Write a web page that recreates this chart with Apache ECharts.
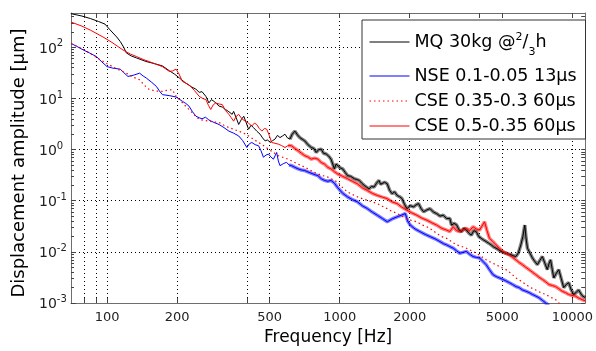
<!DOCTYPE html>
<html>
<head>
<meta charset="utf-8">
<script src="https://cdn.jsdelivr.net/npm/echarts@6/dist/echarts.min.js"></script>
<style>
  html, body {margin: 0; padding: 0; background: #fff;}
  #chart {width: 596px; height: 351px;}
</style>
</head>
<body>
<div id="chart"></div>
<script>
const FONT = 'DejaVu Sans';

// axis ticks and labels
const xLabelValues = [100, 200, 500, 1000, 2000, 5000, 10000];
const xTickValues = [80, 90, 100, 200, 400, 500, 1000, 2000, 4000, 5000, 10000];
const yDecades = [1e-3, 1e-2, 1e-1, 1, 10, 100];

const seriesNames = ['MQ 30kg @2/3h', 'NSE 0.1-0.05 13µs', 'CSE 0.35-0.3 60µs', 'CSE 0.5-0.35 60µs'];

// series: [frequency Hz, amplitude um]
const mqData = [[70,456],[78,410],[85,365],[92,320],[98,285],[103,220],[110,160],[114,130],[118,100],[121,78],[127,68],[134,62],[147,53],[160,48],[173,43.4],[185,35],[195,30],[205,25],[218,20],[230,17],[241,15.2],[249,13.2],[256,13.6],[261,13.0],[266,11],[274,8.2],[281,9.5],[288,8.8],[295,8.0],[303,7.1],[313,6.8],[323,6.1],[334,5.5],[345,4.9],[350,5.6],[356,5.3],[362,3.8],[368,3.1],[378,3.9],[387,4.5],[396,3.4],[406,2.5],[416,3.0],[426,2.7],[440,2.3],[455,2.0],[466,1.7],[478,1.48],[490,1.55],[502,1.38],[515,1.5],[527,1.6],[540,1.9],[554,1.72],[568,1.85],[582,2.0],[596,1.7],[611,1.6],[625,2.0],[642,2.3],[658,1.95],[674,1.72],[690,1.6],[708,1.48],[730,1.25],[755,1.1],[775,1.05],[793,0.88],[812,1.0],[833,1.02],[852,0.85],[875,0.82],[896,0.75],[918,0.65],[935,0.6],[949,0.42],[965,0.52],[981,0.5],[1005,0.44],[1030,0.42],[1055,0.36],[1081,0.31],[1115,0.3],[1155,0.27],[1185,0.26],[1213,0.25],[1245,0.22],[1274,0.2],[1305,0.185],[1338,0.171],[1370,0.19],[1405,0.185],[1440,0.22],[1475,0.25],[1500,0.21],[1524,0.2],[1560,0.23],[1601,0.214],[1640,0.16],[1681,0.137],[1720,0.15],[1766,0.127],[1810,0.12],[1854,0.11],[1900,0.085],[1947,0.07],[2010,0.08],[2079,0.076],[2130,0.083],[2183,0.088],[2240,0.07],[2293,0.061],[2370,0.066],[2446,0.07],[2530,0.06],[2612,0.056],[2700,0.05],[2789,0.052],[2881,0.045],[2976,0.045],[3026,0.0334],[3100,0.036],[3177,0.034],[3260,0.027],[3337,0.0248],[3420,0.029],[3504,0.0267],[3600,0.023],[3681,0.0213],[3770,0.026],[3866,0.0248],[3960,0.02],[4060,0.0184],[4160,0.017],[4264,0.0159],[4370,0.0148],[4478,0.0137],[4590,0.0125],[4702,0.0118],[4820,0.011],[4938,0.0102],[5060,0.0098],[5186,0.0094],[5320,0.009],[5447,0.0088],[5580,0.0084],[5720,0.0081],[5860,0.0095],[6008,0.0137],[6130,0.02],[6247,0.0334],[6330,0.018],[6416,0.0118],[6570,0.0095],[6738,0.0076],[6900,0.0065],[7077,0.0056],[7250,0.0068],[7432,0.0081],[7620,0.006],[7806,0.0045],[7930,0.0058],[8062,0.007],[8200,0.0045],[8326,0.0031],[8530,0.0038],[8744,0.0045],[8960,0.003],[9183,0.002],[9420,0.0023],[9645,0.0025],[9890,0.0018],[10130,0.00147],[10380,0.0016],[10640,0.0018],[11000,0.0014],[11360,0.00127]];

const nseData = [[70,119.5],[74,105],[79,89],[84,78],[90,66],[95,52],[100,42],[106,39.2],[114,37.5],[118,32],[123,27],[128,28],[131.5,29.1],[138,31.3],[143,27.5],[147.5,25.1],[155,21],[163,17.2],[168,14],[173,11.9],[185,11.4],[198,10.7],[211,8.8],[218,8],[225,7.1],[233,5.5],[241,4.5],[249,4.2],[256,4.0],[265,4.3],[274,3.8],[288,3.4],[303,3.1],[318,2.7],[334,2.3],[350,2.1],[368,1.85],[383,1.5],[399,1.1],[409,1.3],[419,1.38],[433,1.25],[448,1.19],[459,0.95],[470,0.71],[482,0.78],[494,0.82],[506,0.72],[519,0.65],[527,0.75],[536,0.88],[545,0.6],[554,0.485],[572,0.53],[591,0.565],[606,0.5],[621,0.485],[642,0.45],[663,0.42],[685,0.4],[708,0.39],[738,0.36],[768,0.335],[787,0.32],[806,0.31],[833,0.27],[861,0.25],[889,0.24],[918,0.25],[950,0.22],[981,0.18],[1030,0.14],[1081,0.119],[1135,0.105],[1193,0.095],[1250,0.08],[1315,0.0703],[1380,0.06],[1451,0.0521],[1525,0.045],[1601,0.0388],[1680,0.044],[1766,0.0485],[1840,0.052],[1914,0.0562],[1960,0.04],[2011,0.0334],[2110,0.028],[2218,0.0248],[2330,0.022],[2446,0.0199],[2570,0.018],[2698,0.0159],[2790,0.0145],[2881,0.0137],[2976,0.0127],[3077,0.0118],[3180,0.0105],[3282,0.0094],[3390,0.0098],[3504,0.0102],[3620,0.009],[3743,0.0081],[3866,0.0078],[3993,0.0076],[4130,0.0065],[4264,0.0056],[4400,0.0045],[4553,0.0036],[4700,0.0033],[4857,0.0031],[5020,0.0029],[5186,0.0027],[5360,0.0025],[5538,0.0023],[5720,0.0021],[5909,0.002],[6100,0.0018],[6310,0.0017],[6520,0.0016],[6738,0.00147],[6960,0.00137],[7189,0.00127],[7430,0.00113],[7677,0.00101],[7930,0.0009]];

const cse1Data = [[70,119],[78,95],[85,75],[92,60],[100,48],[110,38],[121,31.3],[130,26],[138,23.2],[145,18],[152,14.9],[163,14],[173,13.8],[182,14.5],[191,14.9],[198,11],[205,9.5],[215,7.5],[225,6.1],[237,4.8],[249,3.9],[265,3.7],[283,3.5],[303,3.4],[318,3.0],[334,2.7],[350,2.5],[368,2.3],[386,2.1],[406,1.85],[426,1.6],[448,1.38],[470,1.2],[494,1.02],[519,0.88],[545,0.76],[572,0.7],[600,0.65],[631,0.58],[663,0.52],[696,0.47],[731,0.42],[768,0.37],[806,0.335],[847,0.31],[889,0.29],[934,0.26],[981,0.23],[1030,0.18],[1081,0.148],[1135,0.132],[1193,0.119],[1250,0.11],[1315,0.102],[1380,0.095],[1451,0.088],[1525,0.078],[1601,0.07],[1680,0.062],[1766,0.0562],[1850,0.05],[1947,0.045],[2040,0.041],[2147,0.0388],[2250,0.034],[2368,0.031],[2490,0.027],[2612,0.023],[2740,0.02],[2881,0.0184],[3030,0.0158],[3177,0.0137],[3340,0.0128],[3504,0.0118],[3680,0.0105],[3866,0.0094],[4060,0.0082],[4264,0.007],[4480,0.0062],[4702,0.0056],[4940,0.005],[5186,0.0045],[5450,0.0038],[5720,0.0031],[6010,0.0027],[6310,0.0023],[6630,0.002],[6960,0.0018],[7310,0.0016],[7677,0.00147],[8060,0.0013],[8466,0.00117],[8750,0.001],[9040,0.00094]];

const cse2Data = [[70,313],[78,260],[85,216],[96,160],[105,125],[117,89],[126,74],[134,66],[143,58],[152,52.6],[162,47],[173,42],[185,34],[191,34.5],[198,37.5],[204,30],[211,21.5],[225,18.6],[237,14.5],[249,11],[258,10],[266,9.5],[273,7.3],[279,6.1],[286,7.5],[293,8.2],[303,7.8],[313,7.6],[323,5.8],[334,4.9],[342,4.2],[350,3.6],[358,4.4],[368,4.9],[380,4.0],[393,3.6],[405,3.3],[419,2.9],[430,3.3],[440,3.1],[451,2.6],[463,2.3],[475,2.6],[486,2.5],[498,1.9],[510,1.38],[527,1.33],[545,1.28],[563,1.2],[582,1.1],[600,1.2],[621,1.19],[642,1.05],[663,0.95],[685,0.85],[708,0.76],[730,0.72],[755,0.65],[780,0.68],[806,0.65],[833,0.56],[861,0.52],[889,0.45],[918,0.42],[950,0.37],[981,0.335],[1030,0.3],[1081,0.27],[1135,0.24],[1193,0.214],[1250,0.18],[1315,0.159],[1380,0.14],[1451,0.127],[1525,0.118],[1601,0.11],[1680,0.095],[1766,0.088],[1850,0.075],[1947,0.065],[2040,0.058],[2147,0.052],[2250,0.046],[2368,0.0417],[2490,0.037],[2612,0.0334],[2740,0.029],[2881,0.0267],[2976,0.025],[3077,0.031],[3180,0.026],[3282,0.0248],[3390,0.027],[3504,0.0288],[3620,0.026],[3743,0.031],[3866,0.028],[3993,0.0267],[4090,0.032],[4193,0.0388],[4300,0.026],[4403,0.0184],[4550,0.016],[4702,0.0137],[4860,0.0118],[5021,0.0102],[5190,0.0094],[5357,0.0088],[5540,0.0078],[5720,0.007],[5910,0.0062],[6109,0.0056],[6310,0.005],[6516,0.0045],[6740,0.004],[6960,0.0036],[7190,0.0032],[7432,0.0029],[7680,0.0026],[7929,0.0023],[8200,0.0022],[8466,0.0021],[8750,0.0019],[9040,0.0017],[9340,0.0016],[9645,0.00147],[9970,0.0014],[10300,0.00137],[10640,0.00125],[11000,0.00117],[11360,0.0011]];

// log minor ticks 2..9 per decade
const yMinor = [];
yDecades.forEach(d => { for (let k = 2; k <= 9; k++) if (d * k < 470) yMinor.push(d * k); });

const X_MIN = 70, X_MAX = 11360, Y_MIN = 0.001, Y_MAX = 470;
const axisGrey = '#6e6e6e';

const chart = echarts.init(document.getElementById('chart'), null, {renderer: 'canvas'});

const baseX = {
    type: 'log', logBase: 10, min: X_MIN, max: X_MAX,
    axisLine: {show: true, lineStyle: {color: axisGrey, width: 1}},
    splitLine: {show: false},
    axisLabel: {show: false},
    axisTick: {show: true, inside: true, length: 5, customValues: xTickValues, lineStyle: {color: '#444'}}
};
const baseY = {
    type: 'log', logBase: 10, min: Y_MIN, max: Y_MAX,
    axisLine: {show: true, lineStyle: {color: axisGrey, width: 1}},
    splitLine: {show: false},
    axisLabel: {show: false},
    axisTick: {show: true, inside: true, length: 5, customValues: yDecades, lineStyle: {color: '#444'}}
};

// noisy high-frequency part drawn as a faint wider band under each trace
const band = (data, color, from) => ({
    type: 'line', data: data.filter(d => d[0] >= from), showSymbol: false, symbol: 'none',
    silent: true, z: 1, lineStyle: {color: color, width: 3.5, opacity: 0.5}
});

const option = {
    animation: false,
    backgroundColor: '#fff',
    grid: {left: 71, right: 6, top: 13, bottom: 45, containLabel: false},
    legend: {
        data: seriesNames,
        orient: 'vertical', left: 362, top: 20,
        padding: [3, 9, 3, 7], itemGap: 5, itemWidth: 40, itemHeight: 14,
        backgroundColor: '#fff', borderColor: '#333', borderWidth: 1, borderRadius: 0,
        selectedMode: false,
        itemStyle: {opacity: 0},
        lineStyle: {width: 1},
        textStyle: {
            fontFamily: FONT, fontSize: 17.5, color: '#000', lineHeight: 20,
            rich: {
                t: {fontFamily: FONT, fontSize: 17.5, color: '#000', lineHeight: 38},
                sup: {fontFamily: FONT, fontSize: 11, color: '#000', padding: [0, 0, 10, 0]},
                sub: {fontFamily: FONT, fontSize: 11, color: '#000', padding: [20, 0, 0, 0]}
            }
        },
        formatter: name => name.indexOf('MQ') === 0 ? '{t|MQ 30kg @}{sup|2}{t|/}{sub|3}{t|h}' : name
    },
    xAxis: [
        Object.assign({}, baseX, {
            position: 'bottom',
            name: 'Frequency [Hz]', nameLocation: 'middle', nameGap: 26,
            nameTextStyle: {fontFamily: FONT, fontSize: 17, color: '#000'},
            axisLabel: {show: true, customValues: xLabelValues, margin: 8,
                fontFamily: FONT, fontSize: 13, color: '#222', formatter: v => String(v)},
            splitLine: {show: true, lineStyle: {color: '#000', type: [1, 3], width: 1}}
        }),
        Object.assign({}, baseX, {position: 'top'})
    ],
    yAxis: [
        Object.assign({}, baseY, {
            position: 'left',
            name: 'Displacement amplitude [µm]', nameLocation: 'middle', nameGap: 40,
            nameTextStyle: {fontFamily: FONT, fontSize: 18, color: '#000', padding: [0, 10, 0, 0]},
            axisLabel: {
                show: true, customValues: yDecades, margin: 32, align: 'left',
                fontFamily: FONT, fontSize: 14, color: '#222',
                formatter: v => '{b|10}{s|' + Math.round(Math.log10(v)) + '}',
                rich: {
                    b: {fontFamily: FONT, fontSize: 14, color: '#222', verticalAlign: 'bottom', lineHeight: 16},
                    s: {fontFamily: FONT, fontSize: 10, color: '#222', verticalAlign: 'bottom', padding: [0, 0, 7, 0]}
                }
            },
            splitLine: {show: true, lineStyle: {color: '#000', type: [1, 3], width: 1}}
        }),
        Object.assign({}, baseY, {position: 'left', axisLine: {show: false},
            axisTick: {show: true, inside: true, length: 3, customValues: yMinor, lineStyle: {color: '#444'}}}),
        Object.assign({}, baseY, {position: 'right',
            axisTick: {show: true, inside: true, length: 4, customValues: yDecades.concat(yMinor), lineStyle: {color: '#444'}}})
    ],
    series: [
        band(mqData, '#000', 600),
        band(nseData, '#0000ff', 600),
        band(cse2Data, '#ff0000', 600),
        {name: seriesNames[0], type: 'line', data: mqData, showSymbol: false, symbol: 'none', z: 2,
            lineStyle: {color: '#000', width: 1}, itemStyle: {color: '#000'}},
        {name: seriesNames[1], type: 'line', data: nseData, showSymbol: false, symbol: 'none', z: 2,
            lineStyle: {color: '#0000ff', width: 1}, itemStyle: {color: '#0000ff'}},
        {name: seriesNames[2], type: 'line', data: cse1Data, showSymbol: false, symbol: 'none', z: 2,
            lineStyle: {color: '#ff0000', width: 1.2, type: [1.5, 3]}, itemStyle: {color: '#ff0000'}},
        {name: seriesNames[3], type: 'line', data: cse2Data, showSymbol: false, symbol: 'none', z: 2,
            lineStyle: {color: '#ff0000', width: 1}, itemStyle: {color: '#ff0000'}}
    ]
};
chart.setOption(option);
</script>
</body>
</html>
